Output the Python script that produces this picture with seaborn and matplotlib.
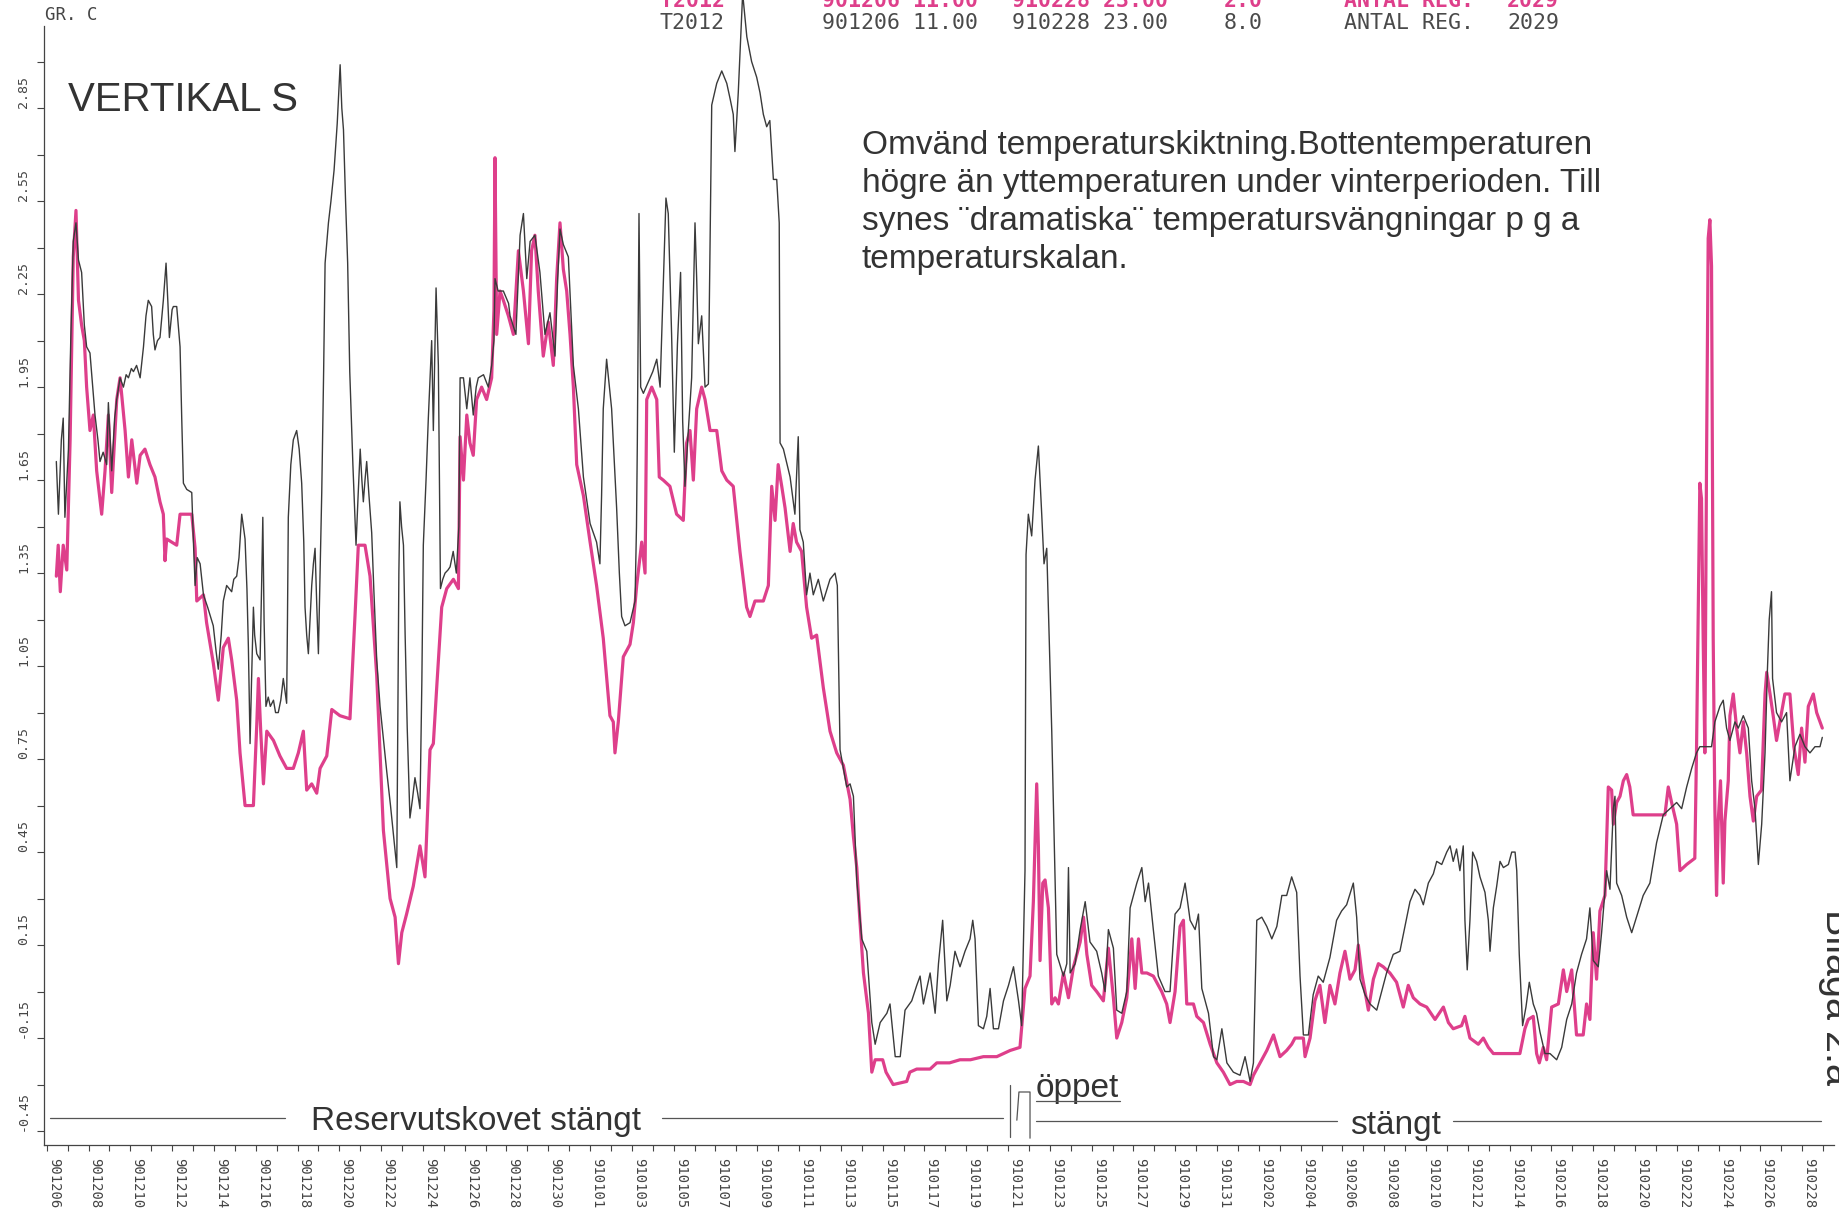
import numpy as np
import pandas as pd
import matplotlib
matplotlib.use("Agg")
import matplotlib.pyplot as plt
import seaborn as sns

# ---------------------------------------------------------------------------
# Temperature logger T2012, vertical S, hourly readings 901206 11.00 - 910228 23.00
# x = days since 901206 00.00, y = temperature (deg C)
# ---------------------------------------------------------------------------
START = pd.Timestamp("1990-12-06")

# 8.0 m (bottom) -- December
bottom_dec = [
    (0.46, 1.71), (0.56, 1.54), (0.70, 1.78), (0.79, 1.85), (0.87, 1.53), (1.04, 1.75),
    (1.15, 2.10), (1.27, 2.42), (1.40, 2.48), (1.52, 2.36), (1.67, 2.32), (1.80, 2.15),
    (1.91, 2.08), (2.07, 2.06), (2.20, 1.95), (2.31, 1.86), (2.45, 1.78), (2.55, 1.71),
    (2.70, 1.74), (2.87, 1.70), (2.95, 1.90), (3.11, 1.68), (3.25, 1.85), (3.35, 1.91),
    (3.51, 1.98), (3.67, 1.95), (3.80, 1.99), (3.91, 1.98), (4.05, 2.01), (4.15, 2.00),
    (4.30, 2.02), (4.47, 1.98), (4.63, 2.08), (4.75, 2.18), (4.86, 2.23), (5.02, 2.21),
    (5.10, 2.12), (5.18, 2.07), (5.30, 2.10), (5.42, 2.11), (5.58, 2.23), (5.71, 2.35),
    (5.80, 2.22), (5.87, 2.11), (6.00, 2.20), (6.06, 2.21), (6.22, 2.21), (6.38, 2.08),
    (6.46, 1.85), (6.54, 1.64), (6.70, 1.62), (6.94, 1.61), (7.02, 1.45), (7.10, 1.31),
    (7.20, 1.40), (7.34, 1.38), (7.50, 1.28), (7.70, 1.24), (7.97, 1.18), (8.10, 1.10),
    (8.21, 1.04), (8.35, 1.15), (8.45, 1.26), (8.61, 1.31), (8.85, 1.29), (8.95, 1.33),
    (9.09, 1.34), (9.20, 1.40), (9.33, 1.54), (9.49, 1.46), (9.58, 1.30), (9.65, 1.11),
    (9.73, 0.80), (9.80, 1.00), (9.89, 1.24), (9.95, 1.15), (10.05, 1.09), (10.21, 1.07),
    (10.28, 1.30), (10.34, 1.53), (10.40, 1.20), (10.49, 0.92), (10.60, 0.95), (10.70, 0.92),
    (10.85, 0.94), (10.95, 0.90), (11.08, 0.90), (11.20, 0.94), (11.32, 1.01), (11.48, 0.93),
    (11.52, 1.20), (11.56, 1.53), (11.68, 1.70), (11.80, 1.78), (11.96, 1.81), (12.08, 1.75),
    (12.20, 1.64), (12.30, 1.45), (12.36, 1.24), (12.44, 1.15), (12.52, 1.09), (12.60, 1.20),
    (12.68, 1.31), (12.76, 1.38), (12.84, 1.43), (12.92, 1.25), (13.00, 1.09), (13.08, 1.35),
    (13.16, 1.61), (13.25, 2.00), (13.32, 2.35), (13.48, 2.48), (13.60, 2.55), (13.75, 2.65),
    (13.90, 2.80), (14.04, 2.99), (14.12, 2.85), (14.20, 2.78), (14.30, 2.55), (14.40, 2.35),
    (14.50, 2.00), (14.65, 1.70), (14.80, 1.44), (14.90, 1.60), (15.00, 1.75), (15.08, 1.65),
    (15.15, 1.58), (15.23, 1.65), (15.31, 1.71), (15.42, 1.60), (15.55, 1.48), (15.65, 1.30),
    (15.79, 1.07), (15.95, 0.92), (16.10, 0.82), (16.27, 0.71), (16.45, 0.60), (16.60, 0.50),
    (16.75, 0.40), (16.80, 0.90), (16.85, 1.35), (16.90, 1.58), (16.98, 1.50), (17.07, 1.44),
    (17.15, 1.15), (17.25, 0.85), (17.38, 0.56), (17.50, 0.62), (17.62, 0.69), (17.75, 0.64),
    (17.86, 0.59), (17.95, 1.00), (18.02, 1.44), (18.15, 1.65), (18.26, 1.85), (18.42, 2.10),
    (18.50, 1.81), (18.63, 2.27), (18.74, 2.02), (18.80, 1.60), (18.84, 1.30), (18.95, 1.33),
    (19.06, 1.35), (19.20, 1.36), (19.30, 1.37), (19.45, 1.42), (19.60, 1.35), (19.72, 1.50),
    (19.78, 1.98), (19.94, 1.98), (20.10, 1.88), (20.25, 1.98), (20.41, 1.86), (20.55, 1.95),
    (20.65, 1.98), (20.90, 1.99), (21.13, 1.95), (21.29, 2.02), (21.40, 2.10), (21.45, 2.30),
    (21.60, 2.26), (21.85, 2.26), (22.10, 2.22), (22.17, 2.18), (22.45, 2.12), (22.65, 2.44),
    (22.81, 2.51), (22.97, 2.30), (23.13, 2.42), (23.36, 2.44), (23.60, 2.32), (23.84, 2.12),
    (24.08, 2.19), (24.32, 2.05), (24.45, 2.30), (24.56, 2.46), (24.72, 2.41), (24.96, 2.37),
    (25.20, 2.02), (25.44, 1.88), (25.68, 1.66),
]
# 8.0 m (bottom) -- January
bottom_jan = [
    (26.00, 1.51), (26.31, 1.45), (26.47, 1.38), (26.55, 1.60), (26.63, 1.88), (26.79, 2.04),
    (27.03, 1.88), (27.27, 1.56), (27.40, 1.35), (27.51, 1.21), (27.67, 1.18), (27.91, 1.19),
    (28.15, 1.26), (28.22, 1.50), (28.26, 1.77), (28.34, 2.51), (28.42, 1.95), (28.55, 1.93),
    (28.87, 1.98), (29.00, 2.00), (29.19, 2.04), (29.35, 1.95), (29.51, 2.30), (29.63, 2.56),
    (29.74, 2.51), (29.90, 2.12), (30.03, 1.74), (30.18, 2.09), (30.33, 2.32), (30.43, 1.84),
    (30.54, 1.63), (30.70, 1.81), (30.86, 1.98), (31.02, 2.48), (31.10, 2.30), (31.18, 2.09),
    (31.34, 2.18), (31.50, 1.95), (31.66, 1.96), (31.74, 2.40), (31.82, 2.86), (32.06, 2.93),
    (32.30, 2.97), (32.54, 2.93), (32.70, 2.88), (32.85, 2.83), (32.93, 2.71), (33.09, 2.90),
    (33.30, 3.22), (33.50, 3.08), (33.73, 3.00), (33.97, 2.95), (34.13, 2.90), (34.29, 2.83),
    (34.45, 2.79), (34.60, 2.81), (34.77, 2.62), (34.93, 2.62), (35.05, 2.48), (35.09, 1.77),
    (35.25, 1.75), (35.57, 1.66), (35.80, 1.54), (35.96, 1.79), (36.04, 1.49), (36.20, 1.45),
    (36.36, 1.28), (36.52, 1.35), (36.68, 1.28), (36.92, 1.33), (37.16, 1.26), (37.48, 1.33),
    (37.72, 1.35), (37.83, 1.31), (37.96, 0.78), (38.28, 0.66), (38.44, 0.67), (38.60, 0.63),
    (38.76, 0.36), (39.00, 0.17), (39.24, 0.13), (39.48, -0.10), (39.64, -0.17), (39.88, -0.10),
    (40.20, -0.07), (40.35, -0.04), (40.60, -0.21), (40.84, -0.21), (41.07, -0.06), (41.39, -0.03),
    (41.63, 0.02), (41.79, 0.05), (41.95, -0.04), (42.27, 0.06), (42.51, -0.07), (42.67, 0.09),
    (42.87, 0.23), (43.07, -0.03), (43.23, 0.02), (43.46, 0.13), (43.70, 0.08), (43.94, 0.13),
    (44.18, 0.17), (44.31, 0.23), (44.42, 0.17), (44.58, -0.11), (44.82, -0.12), (44.98, -0.08),
    (45.14, 0.01), (45.30, -0.12), (45.54, -0.12), (45.78, -0.03), (46.02, 0.02), (46.26, 0.08),
    (46.50, -0.03), (46.65, -0.11), (46.81, 0.39), (46.86, 1.41), (46.97, 1.54), (47.13, 1.47),
    (47.29, 1.65), (47.45, 1.76), (47.61, 1.54), (47.72, 1.38), (47.85, 1.43), (48.09, 0.84),
    (48.33, 0.12), (48.65, 0.05), (48.81, 0.09), (48.89, 0.40), (48.97, 0.06), (49.21, 0.09),
    (49.45, 0.20), (49.69, 0.29), (49.92, 0.16), (50.24, 0.13), (50.48, 0.06), (50.64, 0.00),
    (50.80, 0.20), (51.04, 0.14), (51.20, -0.06), (51.44, -0.07), (51.68, 0.00), (51.84, 0.27),
    (52.16, 0.35), (52.40, 0.40), (52.56, 0.29), (52.72, 0.35), (52.95, 0.20), (53.19, 0.05),
    (53.51, 0.00), (53.75, 0.00), (53.99, 0.25), (54.23, 0.27), (54.47, 0.35), (54.71, 0.23),
    (54.95, 0.20), (55.11, 0.25), (55.27, 0.01), (55.59, -0.07), (55.83, -0.21), (55.99, -0.22),
    (56.23, -0.12), (56.47, -0.23), (56.78, -0.26),
]
# 8.0 m (bottom) -- February
bottom_feb = [
    (57.10, -0.27), (57.34, -0.21), (57.58, -0.29), (57.74, -0.23), (57.90, 0.23), (58.14, 0.24),
    (58.38, 0.21), (58.62, 0.17), (58.86, 0.21), (59.10, 0.31), (59.33, 0.31), (59.57, 0.37),
    (59.81, 0.32), (59.97, 0.05), (60.13, -0.14), (60.37, -0.14), (60.60, -0.01), (60.84, 0.05),
    (61.08, 0.03), (61.40, 0.11), (61.72, 0.23), (61.96, 0.26), (62.20, 0.28), (62.52, 0.35),
    (62.68, 0.24), (62.84, 0.04), (63.08, -0.01), (63.32, -0.04), (63.64, -0.06), (63.95, 0.02),
    (64.11, 0.06), (64.43, 0.12), (64.75, 0.13), (64.99, 0.21), (65.23, 0.29), (65.47, 0.33),
    (65.71, 0.31), (65.87, 0.28), (66.11, 0.35), (66.35, 0.38), (66.51, 0.42), (66.75, 0.41),
    (66.99, 0.45), (67.15, 0.47), (67.30, 0.42), (67.46, 0.46), (67.62, 0.39), (67.78, 0.47),
    (67.86, 0.23), (67.97, 0.07), (68.10, 0.23), (68.23, 0.45), (68.42, 0.42), (68.58, 0.37),
    (68.82, 0.32), (68.98, 0.23), (69.06, 0.13), (69.22, 0.27), (69.38, 0.34), (69.54, 0.42),
    (69.70, 0.40), (69.94, 0.41), (70.10, 0.45), (70.26, 0.45), (70.34, 0.39), (70.46, 0.12),
    (70.62, -0.11), (70.78, -0.05), (70.94, 0.03), (71.13, -0.04), (71.29, -0.07), (71.45, -0.13),
    (71.69, -0.20), (71.93, -0.20), (72.25, -0.22), (72.49, -0.18), (72.73, -0.09), (72.97, -0.04),
    (73.20, 0.06), (73.44, 0.12), (73.68, 0.17), (73.84, 0.27), (74.00, 0.10), (74.24, 0.08),
    (74.40, 0.19), (74.64, 0.39), (74.80, 0.33), (74.96, 0.59), (75.04, 0.63), (75.12, 0.35),
    (75.36, 0.31), (75.60, 0.24), (75.84, 0.19), (76.07, 0.24), (76.39, 0.31), (76.71, 0.35),
    (77.03, 0.48), (77.35, 0.57), (77.67, 0.59), (77.99, 0.61), (78.23, 0.59), (78.47, 0.66),
    (78.71, 0.72), (78.94, 0.77), (79.10, 0.79), (79.42, 0.79), (79.66, 0.79), (79.82, 0.87),
    (80.06, 0.92), (80.22, 0.94), (80.38, 0.85), (80.54, 0.81), (80.78, 0.87), (80.94, 0.85),
    (81.18, 0.89), (81.42, 0.85), (81.58, 0.68), (81.74, 0.59), (81.90, 0.41), (82.06, 0.54),
    (82.22, 0.77), (82.33, 1.03), (82.42, 1.20), (82.53, 1.29), (82.58, 1.01), (82.77, 0.90),
    (83.01, 0.87), (83.25, 0.90), (83.41, 0.68), (83.65, 0.79), (83.89, 0.83), (84.13, 0.79),
    (84.37, 0.77), (84.61, 0.79), (84.85, 0.79), (84.96, 0.82),
]

# 2.0 m (surface) -- December
surface_dec = [
    (0.46, 1.34), (0.55, 1.44), (0.65, 1.29), (0.79, 1.44), (0.96, 1.36), (1.12, 1.78),
    (1.27, 2.37), (1.40, 2.52), (1.52, 2.23), (1.67, 2.15), (1.80, 2.10), (1.91, 1.95),
    (2.07, 1.81), (2.23, 1.86), (2.39, 1.68), (2.63, 1.54), (2.79, 1.68), (2.95, 1.86),
    (3.11, 1.61), (3.35, 1.91), (3.51, 1.98), (3.75, 1.81), (3.91, 1.66), (4.07, 1.78),
    (4.31, 1.64), (4.47, 1.73), (4.70, 1.75), (4.94, 1.70), (5.18, 1.66), (5.42, 1.58),
    (5.58, 1.54), (5.66, 1.39), (5.74, 1.46), (6.22, 1.44), (6.38, 1.54), (6.94, 1.54),
    (7.10, 1.43), (7.18, 1.26), (7.50, 1.28), (7.65, 1.19), (7.97, 1.06), (8.21, 0.94),
    (8.45, 1.11), (8.69, 1.14), (8.85, 1.07), (9.09, 0.94), (9.25, 0.77), (9.49, 0.60),
    (9.89, 0.60), (10.05, 0.86), (10.13, 1.01), (10.24, 0.84), (10.37, 0.67), (10.53, 0.84),
    (10.85, 0.81), (11.16, 0.76), (11.48, 0.72), (11.80, 0.72), (12.04, 0.77), (12.28, 0.84),
    (12.44, 0.65), (12.68, 0.67), (12.92, 0.64), (13.08, 0.72), (13.40, 0.76), (13.64, 0.91),
    (14.03, 0.89), (14.51, 0.88), (14.75, 1.21), (14.91, 1.44), (15.23, 1.44), (15.47, 1.34),
    (15.79, 1.02), (16.11, 0.52), (16.43, 0.30), (16.67, 0.24), (16.83, 0.09), (16.99, 0.19),
    (17.22, 0.25), (17.54, 0.34), (17.86, 0.47), (18.10, 0.37), (18.34, 0.78), (18.50, 0.80),
    (18.66, 0.98), (18.90, 1.24), (19.14, 1.30), (19.46, 1.33), (19.70, 1.30), (19.78, 1.79),
    (19.94, 1.65), (20.10, 1.86), (20.25, 1.77), (20.41, 1.73), (20.57, 1.91), (20.81, 1.95),
    (21.05, 1.91), (21.29, 1.98), (21.40, 2.20), (21.45, 2.69), (21.53, 2.12), (21.69, 2.26),
    (21.85, 2.23), (22.09, 2.18), (22.33, 2.12), (22.57, 2.39), (22.81, 2.26), (23.05, 2.09),
    (23.20, 2.39), (23.36, 2.44), (23.52, 2.26), (23.76, 2.05), (24.00, 2.16), (24.24, 2.02),
    (24.40, 2.30), (24.56, 2.48), (24.72, 2.33), (24.88, 2.26), (25.04, 2.12), (25.20, 1.95),
    (25.36, 1.70), (25.68, 1.60),
]
# 2.0 m (surface) -- January
surface_jan = [
    (26.00, 1.45), (26.31, 1.31), (26.63, 1.14), (26.95, 0.89), (27.11, 0.87), (27.19, 0.77),
    (27.35, 0.87), (27.59, 1.08), (27.91, 1.12), (28.07, 1.19), (28.23, 1.31), (28.47, 1.45),
    (28.63, 1.35), (28.71, 1.91), (28.95, 1.95), (29.19, 1.91), (29.31, 1.66), (29.50, 1.65),
    (29.82, 1.63), (30.14, 1.54), (30.46, 1.52), (30.62, 1.77), (30.78, 1.81), (30.94, 1.65),
    (31.10, 1.88), (31.34, 1.95), (31.50, 1.91), (31.74, 1.81), (32.06, 1.81), (32.30, 1.68),
    (32.54, 1.65), (32.85, 1.63), (33.17, 1.42), (33.49, 1.24), (33.65, 1.21), (33.89, 1.26),
    (34.29, 1.26), (34.53, 1.31), (34.69, 1.63), (34.85, 1.52), (35.00, 1.70), (35.17, 1.63),
    (35.33, 1.56), (35.57, 1.42), (35.72, 1.51), (35.88, 1.45), (36.12, 1.42), (36.36, 1.24),
    (36.60, 1.14), (36.84, 1.15), (37.16, 0.98), (37.48, 0.84), (37.80, 0.77), (38.12, 0.73),
    (38.44, 0.62), (38.60, 0.50), (38.76, 0.40), (38.90, 0.24), (39.08, 0.06), (39.32, -0.07),
    (39.48, -0.26), (39.64, -0.22), (40.00, -0.22), (40.16, -0.26), (40.50, -0.30), (41.15, -0.29),
    (41.30, -0.26), (41.63, -0.25), (42.27, -0.25), (42.59, -0.23), (43.20, -0.23), (43.70, -0.22),
    (44.20, -0.22), (44.82, -0.21), (45.46, -0.21), (46.10, -0.19), (46.57, -0.18), (46.81, 0.01),
    (47.05, 0.05), (47.21, 0.29), (47.37, 0.67), (47.45, 0.47), (47.53, 0.10), (47.66, 0.35),
    (47.77, 0.36), (47.93, 0.27), (48.09, -0.04), (48.25, -0.02), (48.41, -0.04), (48.65, 0.06),
    (48.89, -0.02), (49.13, 0.08), (49.45, 0.16), (49.61, 0.24), (49.77, 0.12), (50.00, 0.02),
    (50.24, 0.00), (50.56, -0.03), (50.80, 0.14), (51.04, -0.02), (51.20, -0.15), (51.44, -0.10),
    (51.68, -0.02), (51.92, 0.17), (52.08, 0.01), (52.24, 0.17), (52.40, 0.06), (52.64, 0.06),
    (52.95, 0.05), (53.35, 0.00), (53.59, -0.04), (53.75, -0.10), (53.99, 0.00), (54.23, 0.21),
    (54.39, 0.23), (54.55, -0.04), (54.87, -0.04), (55.03, -0.08), (55.35, -0.10), (55.67, -0.17),
    (55.99, -0.23), (56.30, -0.26), (56.62, -0.30), (56.94, -0.29),
]
# 2.0 m (surface) -- February
surface_feb = [
    (57.26, -0.29), (57.58, -0.30), (57.74, -0.27), (58.06, -0.23), (58.38, -0.19), (58.70, -0.14),
    (59.01, -0.21), (59.33, -0.19), (59.57, -0.17), (59.73, -0.15), (60.13, -0.15), (60.21, -0.21),
    (60.45, -0.15), (60.68, -0.03), (60.92, 0.02), (61.16, -0.10), (61.40, 0.02), (61.64, -0.04),
    (61.88, 0.06), (62.12, 0.13), (62.36, 0.04), (62.60, 0.07), (62.76, 0.15), (62.92, 0.06),
    (63.24, -0.06), (63.48, 0.04), (63.72, 0.09), (63.95, 0.08), (64.27, 0.06), (64.59, 0.03),
    (64.91, -0.05), (65.15, 0.02), (65.39, -0.02), (65.71, -0.04), (66.03, -0.05), (66.43, -0.09),
    (66.83, -0.05), (67.07, -0.10), (67.30, -0.12), (67.70, -0.11), (67.86, -0.08), (68.10, -0.15),
    (68.50, -0.17), (68.74, -0.15), (68.98, -0.18), (69.22, -0.20), (69.86, -0.20), (70.49, -0.20),
    (70.73, -0.12), (70.89, -0.09), (71.13, -0.08), (71.29, -0.20), (71.42, -0.23), (71.61, -0.18),
    (71.77, -0.22), (72.01, -0.05), (72.33, -0.04), (72.57, 0.07), (72.73, 0.00), (72.97, 0.07),
    (73.20, -0.14), (73.52, -0.14), (73.68, -0.04), (73.84, -0.09), (74.00, 0.19), (74.16, 0.04),
    (74.32, 0.26), (74.56, 0.31), (74.72, 0.66), (74.88, 0.65), (74.96, 0.54), (75.12, 0.61),
    (75.28, 0.63), (75.44, 0.68), (75.60, 0.70), (75.75, 0.66), (75.91, 0.57), (76.63, 0.57),
    (77.43, 0.57), (77.59, 0.66), (77.75, 0.61), (77.99, 0.54), (78.15, 0.39), (78.47, 0.41),
    (78.86, 0.43), (78.94, 0.77), (79.10, 1.64), (79.18, 1.59), (79.26, 1.14), (79.34, 0.77),
    (79.42, 1.70), (79.50, 2.43), (79.58, 2.49), (79.66, 2.34), (79.74, 1.14), (79.82, 0.59),
    (79.90, 0.31), (79.98, 0.55), (80.09, 0.68), (80.22, 0.35), (80.30, 0.55), (80.46, 0.68),
    (80.54, 0.89), (80.70, 0.96), (80.86, 0.85), (81.02, 0.77), (81.18, 0.87), (81.34, 0.77),
    (81.50, 0.63), (81.66, 0.55), (81.82, 0.63), (82.05, 0.65), (82.22, 0.96), (82.30, 1.03),
    (82.46, 0.96), (82.61, 0.89), (82.77, 0.81), (83.01, 0.90), (83.17, 0.96), (83.41, 0.96),
    (83.60, 0.79), (83.81, 0.70), (83.97, 0.85), (84.13, 0.74), (84.29, 0.92), (84.53, 0.96),
    (84.69, 0.90), (84.85, 0.87), (84.96, 0.85),
]

# header rows printed by the logger software
header_surface = ["T2012", "901206 11.00", "910228 23.00", "2.0", "ANTAL REG.", "2029"]
header_bottom = ["T2012", "901206 11.00", "910228 23.00", "8.0", "ANTAL REG.", "2029"]

note_lines = [
    "Omvänd temperaturskiktning.Bottentemperaturen",
    "högre än yttemperaturen under vinterperioden. Till",
    "synes \u00a8dramatiska\u00a8 temperatursvängningar p g a",
    "temperaturskalan.",
]

# y axis: -0.45 ... 2.85 labelled every 0.30, ticks every 0.15
y_labels = ["-0.45", "-0.15", "0.15", "0.45", "0.75", "1.05", "1.35",
            "1.65", "1.95", "2.25", "2.55", "2.85"]

# reservoir gate: closed / open (days) / closed
gate_open = (46.09, 47.05)

# ---------------------------------------------------------------------------
MAGENTA = "#de3f8b"
INK = "#3a3a3a"
MONO = "DejaVu Sans Mono"
W, H = 1839, 1212

sns.set_theme(style="white")
plt.rcParams["font.family"] = ["Liberation Sans", "DejaVu Sans"]

def frame(series, name):
    df = pd.DataFrame(series, columns=["day", "temp"])
    df["depth"] = name
    return df

bottom = pd.concat([frame(bottom_dec, "8.0"), frame(bottom_jan, "8.0"), frame(bottom_feb, "8.0")],
                   ignore_index=True)
surface = pd.concat([frame(surface_dec, "2.0"), frame(surface_jan, "2.0"), frame(surface_feb, "2.0")],
                    ignore_index=True)

fig = plt.figure(figsize=(W / 100, H / 100), dpi=100)
fig.patch.set_facecolor("white")
ax = fig.add_axes([44 / W, 1 - 1145 / H, (1834 - 44) / W, (1145 - 26) / H])

sns.lineplot(data=surface, x="day", y="temp", ax=ax, color=MAGENTA, linewidth=2.3,
             estimator=None, sort=False, legend=False, zorder=2, clip_on=False)
sns.lineplot(data=bottom, x="day", y="temp", ax=ax, color=INK, linewidth=1.0,
             estimator=None, sort=False, legend=False, zorder=3, clip_on=False)

ax.set_xlim(-0.13, 85.52)
ax.set_ylim(-0.495, 3.115)
ax.set_xlabel("")
ax.set_ylabel("")

for side in ("top", "right"):
    ax.spines[side].set_visible(False)
for side in ("left", "bottom"):
    ax.spines[side].set_color("#444444")
    ax.spines[side].set_linewidth(0.9)

# x axis: one tick a day, a date label every second day
label_dates = pd.date_range(START, "1991-02-28", freq="2D")
label_pos = (label_dates - START).days.to_numpy()
ax.set_xticks(label_pos)
ax.set_xticklabels([d.strftime("%y%m%d") for d in label_dates], rotation=-90,
                   fontfamily=MONO, fontsize=10, color="#444444", ha="left", va="top")
ax.set_xticks(np.arange(0, 86, 1), minor=True)

# y axis
y_pos = [float(s) for s in y_labels]
ax.set_yticks(y_pos)
ax.set_yticklabels(y_labels, rotation=90, fontfamily=MONO, fontsize=9.5,
                   color="#444444", va="bottom", ha="right")
ax.set_yticks(np.round(np.arange(-0.45, 3.001, 0.15), 2), minor=True)

ax.tick_params(axis="x", which="both", bottom=True, direction="out", color="#444444",
               width=0.8, length=4, pad=5)
ax.tick_params(axis="y", which="both", left=True, direction="out", color="#444444",
               width=0.8, length=5, pad=5)
ax.grid(False)

# reservoir gate timeline along the bottom
line_kw = dict(color="#555555", linewidth=0.9, clip_on=False, zorder=4)
ax.plot([0.16, 11.40], [-0.408, -0.408], **line_kw)
ax.text(12.64, -0.447, "Reservutskovet stängt", fontsize=24, color="#333333", va="baseline")
ax.plot([29.44, 45.76], [-0.408, -0.408], **line_kw)
ax.plot([gate_open[0], gate_open[0]], [-0.302, -0.470], **line_kw)
ax.plot([46.42, 46.52, gate_open[1], gate_open[1]], [-0.415, -0.324, -0.324, -0.473], **line_kw)
ax.text(47.33, -0.340, "öppet", fontsize=24, color="#333333", va="baseline")
ax.plot([47.33, 51.36], [-0.353, -0.353], **line_kw)
ax.plot([47.33, 61.74], [-0.418, -0.418], **line_kw)
ax.text(62.36, -0.460, "stängt", fontsize=24, color="#333333", va="baseline")
ax.plot([67.29, 84.89], [-0.418, -0.418], **line_kw)

# figure-level text
def fxy(px, py):
    return px / W, 1 - py / H

fig.text(*fxy(45, 15), "GR. C", fontfamily=MONO, fontsize=12.5, color="#444444", va="center")

columns = [660, 822, 1012, 1224, 1344, 1507]
for x, s in zip(columns, header_surface):
    fig.text(*fxy(x, 1), s, fontfamily=MONO, fontsize=15.5, color=MAGENTA,
             fontweight="bold", va="center")
for x, s in zip(columns, header_bottom):
    fig.text(*fxy(x, 23), s, fontfamily=MONO, fontsize=15.5, color="#4a4a4a", va="center")

fig.text(*fxy(68, 111), "VERTIKAL S", fontsize=29, color="#333333", va="baseline")

for i, line in enumerate(note_lines):
    fig.text(*fxy(862, 154 + 38 * i), line, fontsize=24, color="#333333", va="baseline")

fig.text(*fxy(1826, 909), "Bilaga 2.a", fontsize=28.5, color="#333333", rotation=-90,
         rotation_mode="anchor", ha="left", va="baseline")

fig.savefig("out.png", dpi=100, facecolor="white")
